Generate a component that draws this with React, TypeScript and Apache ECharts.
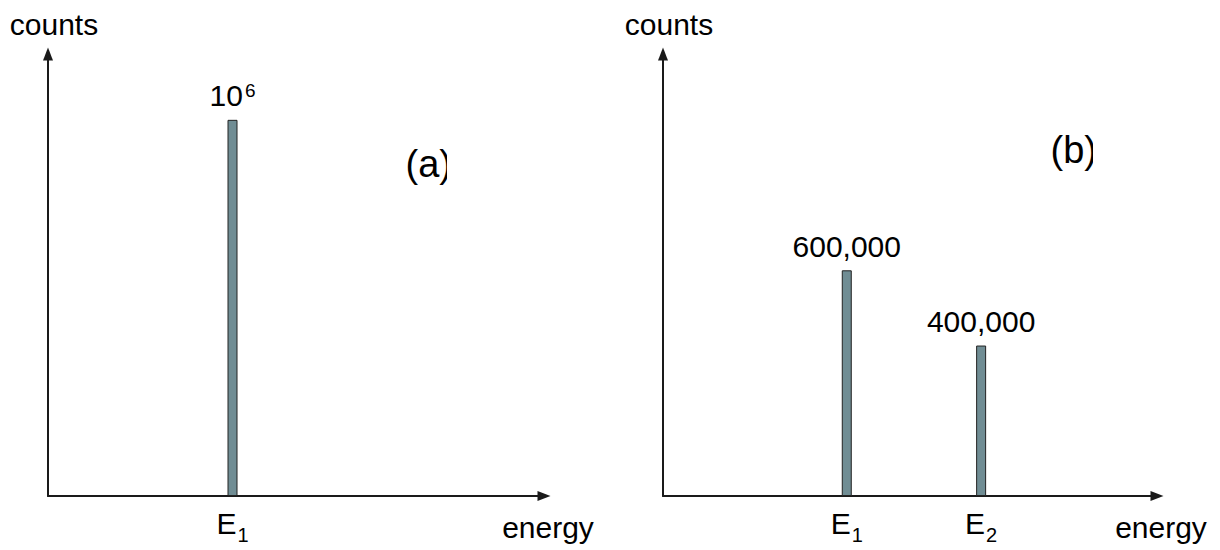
import React, { useEffect, useRef } from "react";
import * as echarts from "echarts";

// ---- data ----
const energiesA = [3.72];
const countsA = [1000000];
const energyIndexA = ["1"];

const energiesB = [3.72, 6.44];
const countsB = [600000, 400000];
const energyIndexB = ["1", "2"];

const panelTags = ["(a)", "(b)"];
const yAxisName = "counts";
const xAxisName = "energy";
const energyMax = 10;
const countsMax = 1175000;

const FONT = "'Liberation Sans', Arial, Helvetica, sans-serif";
const BAR_FILL = "#708d94";
const LINE = "#1a1a1a";

function powLabel(v: number) {
  const e = Math.round(Math.log10(v));
  return `{n|10}{sup|${e}}`;
}
function groupLabel(v: number) {
  return `{n|${v.toLocaleString("en-US")}}`;
}

const labelRich = {
  n: { fontSize: 30, lineHeight: 30, verticalAlign: "top", fontFamily: FONT, color: "#000" },
  sup: { fontSize: 19, lineHeight: 19, verticalAlign: "top", fontFamily: FONT, color: "#000", padding: [0, 0, 0, 2] },
};
const tickRich = {
  e: { fontSize: 30, lineHeight: 30, verticalAlign: "top", fontFamily: FONT, color: "#000" },
  s: { fontSize: 20, lineHeight: 20, verticalAlign: "top", fontFamily: FONT, color: "#000", padding: [17, 0, 0, 1] },
};

function makeX(gridIndex: number, energies: number[], idx: string[]) {
  return {
    type: "value",
    gridIndex,
    min: 0,
    max: energyMax,
    name: xAxisName,
    nameLocation: "end",
    nameGap: 4,
    nameTextStyle: {
      fontSize: 30,
      fontFamily: FONT,
      color: "#000",
      align: "center",
      verticalAlign: "top",
      padding: [16, 0, 0, 0],
    },
    axisLine: {
      show: true,
      symbol: ["none", "triangle"],
      symbolSize: [10, 13],
      lineStyle: { color: LINE, width: 2 },
    },
    axisTick: { show: false },
    splitLine: { show: false },
    axisLabel: {
      show: true,
      customValues: energies,
      margin: 12,
      formatter: (v: number) => {
        const i = energies.findIndex((e) => Math.abs(e - v) < 1e-6);
        return `{e|E}{s|${i >= 0 ? idx[i] : ""}}`;
      },
      rich: tickRich,
    },
  };
}

function makeY(gridIndex: number) {
  return {
    type: "value",
    gridIndex,
    min: 0,
    max: countsMax,
    name: yAxisName,
    nameLocation: "end",
    nameGap: 15,
    nameTextStyle: {
      fontSize: 30,
      fontFamily: FONT,
      color: "#000",
      align: "center",
      padding: [0, 0, 0, 12],
    },
    axisLine: {
      show: true,
      symbol: ["none", "triangle"],
      symbolSize: [10, 13],
      lineStyle: { color: LINE, width: 2 },
    },
    axisTick: { show: false },
    axisLabel: { show: false },
    splitLine: { show: false },
  };
}

function makeBars(idx: number, energies: number[], counts: number[], fmt: (v: number) => string) {
  return {
    type: "bar",
    xAxisIndex: idx,
    yAxisIndex: idx,
    barWidth: 10,
    data: energies.map((e, i) => [e, counts[i]]),
    itemStyle: { color: BAR_FILL, borderColor: "#222", borderWidth: 1 },
    label: {
      show: true,
      position: "top",
      distance: 9,
      formatter: (p: any) => fmt(p.value[1]),
      rich: labelRich,
    },
  };
}

export default function App() {
  const ref = useRef<HTMLDivElement>(null);
  useEffect(() => {
    if (!ref.current) return;
    const chart = echarts.init(ref.current, undefined, { renderer: "svg" });
    chart.setOption({
      animation: false,
      backgroundColor: "#fff",
      grid: [
        { left: 48, top: 54, width: 496, height: 442, outerBoundsMode: "none" },
        { left: 663, top: 54, width: 494, height: 442, outerBoundsMode: "none" },
      ],
      xAxis: [makeX(0, energiesA, energyIndexA), makeX(1, energiesB, energyIndexB)],
      yAxis: [makeY(0), makeY(1)],
      series: [
        makeBars(0, energiesA, countsA, powLabel),
        makeBars(1, energiesB, countsB, groupLabel),
      ],
      graphic: [
        {
          type: "text",
          x: 405.5,
          y: 164,
          z: 50,
          style: { text: panelTags[0], fontSize: 38, fontFamily: FONT, fill: "#000", verticalAlign: "middle" },
        },
        {
          type: "rect",
          z: 60,
          shape: { x: 447, y: 130, width: 30, height: 70 },
          style: { fill: "#fff" },
        },
        {
          type: "text",
          x: 1050.5,
          y: 150,
          z: 50,
          style: { text: panelTags[1], fontSize: 38, fontFamily: FONT, fill: "#000", verticalAlign: "middle" },
        },
        {
          type: "rect",
          z: 60,
          shape: { x: 1093, y: 115, width: 30, height: 70 },
          style: { fill: "#fff" },
        },
      ],
    });
    return () => chart.dispose();
  }, []);
  return (
    <div
      ref={ref}
      style={{ position: "absolute", left: 0, top: 0, width: 1220, height: 550, background: "#fff" }}
    />
  );
}
